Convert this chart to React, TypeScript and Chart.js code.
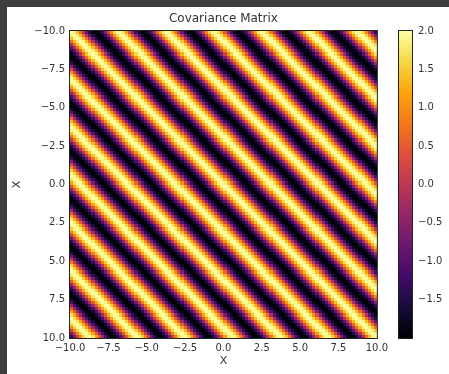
import { useEffect, useRef } from "react";
import { Chart, registerables } from "chart.js";

Chart.register(...registerables);

// Input domain of the kernel (both axes share it)
const AXIS_MIN = -10;
const AXIS_MAX = 10;
const GRID_SIZE = 100;

// Tick labels
const xTicks = [-10, -7.5, -5, -2.5, 0, 2.5, 5, 7.5, 10];
const yTicks = [-10, -7.5, -5, -2.5, 0, 2.5, 5, 7.5, 10];
const colorbarTicks = [-1.5, -1.0, -0.5, 0.0, 0.5, 1.0, 1.5, 2.0];

// Cosine covariance kernel k(a, b) = variance * cos(frequency * (a - b))
const kernelVariance = 2.0;
const kernelFrequency = 2.0;

const inputPoints: number[] = Array.from(
  { length: GRID_SIZE },
  (_, i) => AXIS_MIN + (i * (AXIS_MAX - AXIS_MIN)) / (GRID_SIZE - 1)
);

const covariance: number[][] = inputPoints.map((a) =>
  inputPoints.map((b) => kernelVariance * Math.cos(kernelFrequency * (a - b)))
);

const covMin = Math.min(...covariance.map((row) => Math.min(...row)));
const covMax = Math.max(...covariance.map((row) => Math.max(...row)));

// Inferno colormap anchors
const INFERNO = [
  "#000004", "#160b39", "#420a68", "#6a176e", "#932667", "#bc3754",
  "#dd513a", "#f37819", "#fca50a", "#f6d746", "#fcffa4",
];
const infernoRgb = INFERNO.map((h) => [
  parseInt(h.slice(1, 3), 16),
  parseInt(h.slice(3, 5), 16),
  parseInt(h.slice(5, 7), 16),
]);

function inferno(t: number): string {
  const c = Math.max(0, Math.min(1, t)) * (infernoRgb.length - 1);
  const i = Math.min(Math.floor(c), infernoRgb.length - 2);
  const f = c - i;
  const a = infernoRgb[i];
  const b = infernoRgb[i + 1];
  const r = Math.round(a[0] + (b[0] - a[0]) * f);
  const g = Math.round(a[1] + (b[1] - a[1]) * f);
  const bl = Math.round(a[2] + (b[2] - a[2]) * f);
  return `rgb(${r},${g},${bl})`;
}

const colorFor = (v: number) => inferno((v - covMin) / (covMax - covMin));

const fmt = (v: number) =>
  (v < 0 ? "\u2212" : "") + Math.abs(Number(v)).toFixed(1);

const FONT = "DejaVu Sans";
const TEXT = "#333333";

const heatmapPlugin = {
  id: "heatmap",
  beforeDatasetsDraw(chart: any) {
    const { ctx, scales } = chart;
    const xs = scales.x;
    const ys = scales.y;
    const step = (AXIS_MAX - AXIS_MIN) / GRID_SIZE;
    ctx.save();
    for (let i = 0; i < GRID_SIZE; i++) {
      const ya = Math.round(ys.getPixelForValue(AXIS_MIN + i * step));
      const yb = Math.round(ys.getPixelForValue(AXIS_MIN + (i + 1) * step));
      for (let j = 0; j < GRID_SIZE; j++) {
        const xa = Math.round(xs.getPixelForValue(AXIS_MIN + j * step));
        const xb = Math.round(xs.getPixelForValue(AXIS_MIN + (j + 1) * step));
        ctx.fillStyle = colorFor(covariance[i][j]);
        ctx.fillRect(
          Math.min(xa, xb),
          Math.min(ya, yb),
          Math.abs(xb - xa),
          Math.abs(yb - ya)
        );
      }
    }
    ctx.restore();
  },
  afterDatasetsDraw(chart: any) {
    const { ctx, chartArea } = chart;
    ctx.save();
    ctx.strokeStyle = "#222222";
    ctx.lineWidth = 1;
    ctx.strokeRect(
      chartArea.left - 0.5,
      chartArea.top - 0.5,
      chartArea.right - chartArea.left + 1,
      chartArea.bottom - chartArea.top + 1
    );
    // title
    ctx.fillStyle = TEXT;
    ctx.font = `12px "${FONT}"`;
    ctx.textAlign = "center";
    ctx.textBaseline = "middle";
    ctx.fillText(
      "Covariance Matrix",
      (chartArea.left + chartArea.right) / 2,
      chartArea.top - 12
    );
    ctx.restore();
  },
};

const colorbarPlugin = {
  id: "colorbar",
  beforeDatasetsDraw(chart: any) {
    const { ctx, chartArea, scales } = chart;
    const ys = scales.y;
    ctx.save();
    for (let py = Math.floor(chartArea.top); py < chartArea.bottom; py++) {
      const v = ys.getValueForPixel(py + 0.5);
      ctx.fillStyle = colorFor(v);
      ctx.fillRect(chartArea.left, py, chartArea.right - chartArea.left, 1);
    }
    ctx.strokeStyle = "#222222";
    ctx.lineWidth = 1;
    ctx.strokeRect(
      chartArea.left + 0.5,
      chartArea.top - 0.5,
      chartArea.right - chartArea.left - 1,
      chartArea.bottom - chartArea.top + 1
    );
    ctx.restore();
  },
};

const tickFont = { family: FONT, size: 10 };

export default function App() {
  const mainRef = useRef<HTMLCanvasElement>(null);
  const barRef = useRef<HTMLCanvasElement>(null);

  useEffect(() => {
    if (!mainRef.current || !barRef.current) return;

    const main = new Chart(mainRef.current, {
      type: "scatter",
      data: { datasets: [{ data: [], showLine: false }] },
      options: {
        animation: false,
        responsive: false,
        maintainAspectRatio: false,
        events: [],
        layout: { padding: { top: 24, right: 15, left: 0, bottom: 0 } },
        plugins: {
          legend: { display: false },
          tooltip: { enabled: false },
          title: { display: false },
        },
        scales: {
          x: {
            type: "linear",
            position: "bottom",
            min: AXIS_MIN,
            max: AXIS_MAX,
            grid: { display: false, drawTicks: false },
            border: { display: false },
            afterBuildTicks: (s: any) => {
              s.ticks = xTicks.map((value) => ({ value }));
            },
            afterFit: (s: any) => {
              s.height = 36;
            },
            ticks: {
              autoSkip: false,
              maxRotation: 0,
              padding: 4,
              color: TEXT,
              font: tickFont,
              callback: (v: any) => fmt(Number(v)),
            },
            title: {
              display: true,
              text: "X",
              color: TEXT,
              font: { family: FONT, size: 11 },
              padding: { top: 0, bottom: 6 },
            },
          },
          y: {
            type: "linear",
            position: "left",
            reverse: true,
            min: AXIS_MIN,
            max: AXIS_MAX,
            grid: { display: false, drawTicks: false },
            border: { display: false },
            afterBuildTicks: (s: any) => {
              s.ticks = yTicks.map((value) => ({ value }));
            },
            afterFit: (s: any) => {
              s.width = 63;
            },
            ticks: {
              autoSkip: false,
              padding: 5,
              color: TEXT,
              font: tickFont,
              callback: (v: any) => fmt(Number(v)),
            },
            title: {
              display: true,
              text: "X",
              color: TEXT,
              font: { family: FONT, size: 11 },
              padding: { top: 4, bottom: 0 },
            },
          },
        },
      } as any,
      plugins: [heatmapPlugin],
    });

    const bar = new Chart(barRef.current, {
      type: "scatter",
      data: { datasets: [{ data: [] }] },
      options: {
        animation: false,
        responsive: false,
        maintainAspectRatio: false,
        events: [],
        layout: { padding: { top: 24, right: 0, left: 0, bottom: 36 } },
        plugins: {
          legend: { display: false },
          tooltip: { enabled: false },
          title: { display: false },
        },
        scales: {
          x: { type: "linear", display: false, min: 0, max: 1 },
          y: {
            type: "linear",
            position: "right",
            min: covMin,
            max: covMax,
            grid: { display: false, drawTicks: false },
            border: { display: false },
            afterBuildTicks: (s: any) => {
              s.ticks = colorbarTicks.map((value) => ({ value }));
            },
            afterFit: (s: any) => {
              s.width = 35;
            },
            ticks: {
              autoSkip: false,
              padding: 5,
              color: TEXT,
              font: tickFont,
              callback: (v: any) => fmt(Number(v)),
            },
          },
        },
      } as any,
      plugins: [colorbarPlugin],
    });

    return () => {
      main.destroy();
      bar.destroy();
    };
  }, []);

  return (
    <div
      style={{
        position: "fixed",
        left: 0,
        top: 0,
        width: 449,
        height: 374,
        background: "#3e3e3e",
        overflow: "hidden",
      }}
    >
      <div
        style={{
          position: "absolute",
          left: 7,
          top: 7,
          width: 442,
          height: 367,
          background: "#ffffff",
        }}
      >
        <canvas
          ref={mainRef}
          width={385}
          height={367}
          style={{ position: "absolute", left: 0, top: 0, width: 385, height: 367 }}
        />
        <canvas
          ref={barRef}
          width={50}
          height={367}
          style={{ position: "absolute", left: 391, top: 0, width: 50, height: 367 }}
        />
      </div>
    </div>
  );
}
